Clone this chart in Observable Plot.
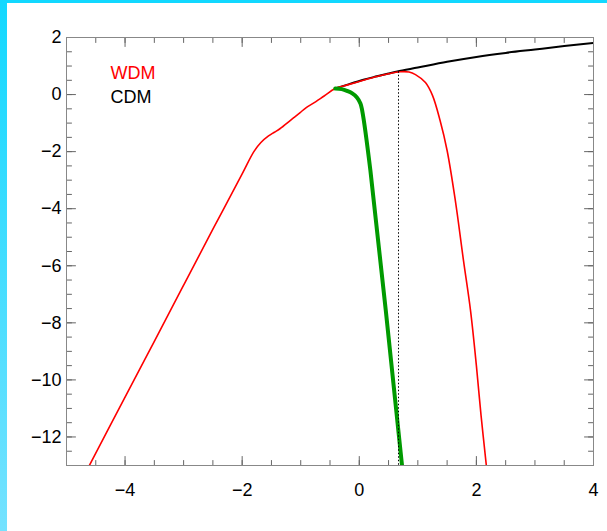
<!DOCTYPE html>
<html><head><meta charset="utf-8">
<script src="https://cdn.jsdelivr.net/npm/d3@7"></script>
<script src="https://cdn.jsdelivr.net/npm/@observablehq/plot@0.6"></script>
<style>
body{margin:0;background:#fff;}
#wrap{position:relative;width:607px;height:531px;overflow:hidden;background:#fff;}
#topbar{position:absolute;left:0;top:0;width:607px;height:3px;background:#12d8ff;}
#leftbar{position:absolute;left:0;top:0;width:7px;height:531px;background:linear-gradient(#12d8ff,#74e2ff);}
</style></head>
<body><div id="wrap"><div id="chart"></div><div id="topbar"></div><div id="leftbar"></div></div>
<script>
// CDM curve
const cdmX = [-0.41, -0.2, 0.07, 0.3, 0.5, 0.65, 1.0, 1.5, 2.0, 2.5, 3.0, 3.5, 4.0];
const cdmY = [0.21, 0.35, 0.52, 0.64, 0.74, 0.81, 0.95, 1.15, 1.32, 1.46, 1.58, 1.70, 1.81];
// WDM curve
const wdmX = [-4.61, -4.0, -3.5, -3.0, -2.5, -2.0, -1.8, -1.68, -1.55, -1.45, -1.35, -1.18, -1.1, -1.01, -0.9, -0.79, -0.6, -0.41, -0.2, 0.07, 0.3, 0.5, 0.7, 0.85, 0.96, 1.13, 1.25, 1.38, 1.5, 1.64, 1.78, 1.9, 2.0, 2.08, 2.17];
const wdmY = [-13, -10.6, -8.65, -6.68, -4.72, -2.78, -2.0, -1.68, -1.45, -1.32, -1.19, -0.91, -0.78, -0.63, -0.45, -0.31, -0.05, 0.21, 0.34, 0.5, 0.63, 0.73, 0.8, 0.79, 0.70, 0.42, -0.03, -0.91, -1.96, -3.71, -5.82, -7.57, -9.5, -11.25, -13];
// green truncated curve
const grnX = [-0.41, -0.3, -0.2, -0.12, -0.04, 0.02, 0.05, 0.19, 0.73];
const grnY = [0.21, 0.19, 0.12, 0.04, -0.1, -0.31, -0.56, -2.66, -13];
// dotted marker
const markX = [0.67];
const markY = [0.8];
// ticks
const xMajor = [-4, -2, 0, 2, 4];
const xMinor = d3.range(-5, 4.01, 0.5);
const yMajor = [-12, -10, -8, -6, -4, -2, 0, 2];
const yMinor = d3.range(-13, 2.01, 0.5);
const legendLabels = ["WDM", "CDM"];
const legendColors = ["#ff0000", "#000000"];

const tbl = (xs, ys) => xs.map((x, i) => ({x, y: ys[i]}));
const tickShape = {draw(ctx, l) { ctx.moveTo(0, 0); ctx.lineTo(0, -l); }};
const tickCol = "#666";
const tickMarks = (vals, side, len) => {
  const horiz = side === "top" || side === "bottom";
  const rot = {bottom: 0, top: 180, left: 90, right: -90}[side];
  return Plot.vector(vals, {
    [horiz ? "x" : "y"]: d => d,
    frameAnchor: side, length: len, rotate: rot, anchor: "start",
    shape: tickShape, stroke: tickCol, strokeWidth: 1
  });
};

const plot = Plot.plot({
  width: 607, height: 531,
  marginLeft: 66, marginRight: 14, marginTop: 37, marginBottom: 66,
  x: {domain: [-5, 4]},
  y: {domain: [-13, 2]},
  style: {fontFamily: "'Liberation Sans', Arial, Helvetica, sans-serif", fontSize: "18px", background: "white", color: "black"},
  marks: [
    Plot.axisX(xMajor, {tickSize: 0, tickPadding: 18, fontSize: 18, label: null}),
    Plot.axisY(yMajor, {tickSize: 0, tickPadding: 5, fontSize: 18, label: null}),
    ...["bottom", "top"].flatMap(s => [tickMarks(xMajor, s, 9), tickMarks(xMinor, s, 5)]),
    ...["left", "right"].flatMap(s => [tickMarks(yMajor, s, 9), tickMarks(yMinor, s, 5)]),
    Plot.frame({stroke: "#888", strokeWidth: 1}),
    Plot.line(tbl(cdmX, cdmY), {x: "x", y: "y", stroke: "#000", strokeWidth: 2, curve: "catmull-rom", clip: true}),
    Plot.line(tbl(wdmX, wdmY), {x: "x", y: "y", stroke: "#ff0000", strokeWidth: 1.6, curve: "catmull-rom", clip: true}),
    Plot.line(tbl(grnX, grnY), {x: "x", y: "y", stroke: "#009a00", strokeWidth: 4, curve: "catmull-rom", clip: true}),
    Plot.ruleX(tbl(markX, markY), {x: "x", y1: "y", y2: -13, stroke: "#000", strokeWidth: 1, strokeDasharray: "1.5,2"}),
    Plot.text([legendLabels[0]], {text: d => d, frameAnchor: "top-left", dx: 44, dy: 29, textAnchor: "start", fill: legendColors[0], fontSize: 18}),
    Plot.text([legendLabels[1]], {text: d => d, frameAnchor: "top-left", dx: 44, dy: 53, textAnchor: "start", fill: legendColors[1], fontSize: 18})
  ]
});
document.getElementById("chart").appendChild(plot);
</script>
</body></html>
